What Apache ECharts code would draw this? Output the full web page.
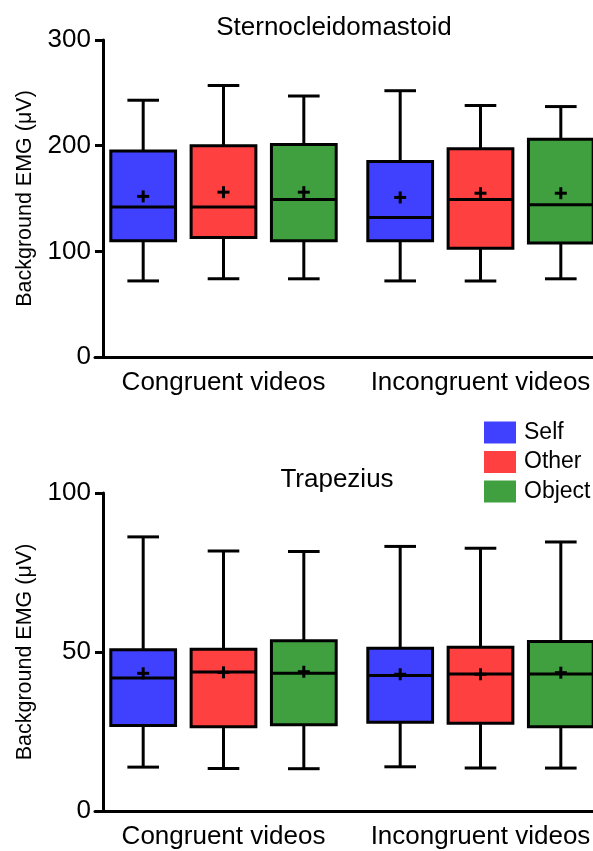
<!DOCTYPE html>
<html>
<head>
<meta charset="utf-8">
<script src="https://cdn.jsdelivr.net/npm/echarts@6/dist/echarts.min.js"></script>
<style>
html,body{margin:0;padding:0;background:#fff;}
#chart{width:593px;height:851px;}
</style>
</head>
<body>
<div id="chart"></div>
<script>
// ---- data ----
const categories = ['Congruent videos', 'Incongruent videos'];
const groups = ['Self', 'Other', 'Object'];
// each row: [whiskerLow, Q1, median, Q3, whiskerHigh, mean] per category
const scmSelf   = [[72, 110, 142, 195, 243, 152], [72, 110, 132, 185, 252, 151]];
const scmOther  = [[74, 113, 142, 200, 257, 156], [72, 103, 149, 197, 238, 155]];
const scmObject = [[74, 110, 149, 201, 247, 156], [74, 108, 144, 206, 237, 155]];
const trapSelf   = [[13.8, 26.9, 41.8, 50.7, 86.2, 43.3], [13.9, 27.9, 42.6, 51.2, 83.2, 43.0]];
const trapOther  = [[13.4, 26.5, 43.7, 50.9, 81.8, 43.6], [13.5, 27.6, 43.1, 51.5, 82.6, 43.0]];
const trapObject = [[13.3, 27.1, 43.3, 53.5, 81.6, 43.8], [13.5, 26.5, 43.1, 53.3, 84.6, 43.5]];
const scmTicks = [0, 100, 200, 300];
const trapTicks = [0, 50, 100];
const titles = ['Sternocleidomastoid', 'Trapezius'];
const yName = 'Background EMG (\u03bcV)';

// ---- styles ----
const colors = ['#4040FF', '#FF4040', '#40A040'];
const offsets = [-0.3125, 0, 0.3125];
const FONT = "'Liberation Sans', Arial, sans-serif";

function makeRender(gi) {
  return function (params, api) {
    const cat = api.value(0);
    const band = api.size([1, 0])[0];
    const cx = api.coord([cat, 0])[0] + offsets[gi] * band;
    const bw = band * 0.252;
    const cw = band * 0.123;
    const yLo = api.coord([cat, api.value(1)])[1];
    const yQ1 = api.coord([cat, api.value(2)])[1];
    const yMed = api.coord([cat, api.value(3)])[1];
    const yQ3 = api.coord([cat, api.value(4)])[1];
    const yHi = api.coord([cat, api.value(5)])[1];
    const yMean = api.coord([cat, api.value(6)])[1];
    const ls = { stroke: '#000', lineWidth: 3 };
    const p = 6;
    return {
      type: 'group',
      children: [
        { type: 'line', shape: { x1: cx, y1: yHi, x2: cx, y2: yQ3 }, style: ls },
        { type: 'line', shape: { x1: cx, y1: yQ1, x2: cx, y2: yLo }, style: ls },
        { type: 'line', shape: { x1: cx - cw / 2, y1: yHi, x2: cx + cw / 2, y2: yHi }, style: ls },
        { type: 'line', shape: { x1: cx - cw / 2, y1: yLo, x2: cx + cw / 2, y2: yLo }, style: ls },
        { type: 'rect', shape: { x: cx - bw / 2, y: yQ3, width: bw, height: yQ1 - yQ3 },
          style: { fill: colors[gi], stroke: '#000', lineWidth: 3 } },
        { type: 'line', shape: { x1: cx - bw / 2, y1: yMed, x2: cx + bw / 2, y2: yMed }, style: ls },
        { type: 'line', shape: { x1: cx - p, y1: yMean, x2: cx + p, y2: yMean }, style: ls },
        { type: 'line', shape: { x1: cx, y1: yMean - p, x2: cx, y2: yMean + p }, style: ls }
      ]
    };
  };
}

function toData(rows) {
  return rows.map((r, i) => [i].concat(r));
}

const topSets = [scmSelf, scmOther, scmObject];
const botSets = [trapSelf, trapOther, trapObject];

const series = [];
[topSets, botSets].forEach((sets, gridIdx) => {
  sets.forEach((rows, gi) => {
    series.push({
      type: 'custom',
      name: groups[gi],
      xAxisIndex: gridIdx,
      yAxisIndex: gridIdx,
      itemStyle: { color: colors[gi] },
      renderItem: makeRender(gi),
      encode: { x: 0, y: [1, 2, 3, 4, 5, 6] },
      data: toData(rows),
      clip: false,
      silent: true
    });
  });
});

function xAxis(gridIndex) {
  return {
    type: 'category',
    gridIndex: gridIndex,
    data: categories,
    axisLine: { lineStyle: { color: '#000', width: 3 } },
    axisTick: { show: false },
    axisLabel: { color: '#000', fontSize: 26, fontFamily: FONT, margin: 13, interval: 0 },
    splitLine: { show: false }
  };
}
function yAxis(gridIndex, ticks) {
  return {
    type: 'value',
    gridIndex: gridIndex,
    min: ticks[0],
    max: ticks[ticks.length - 1],
    interval: ticks[1] - ticks[0],
    offset: -8,
    name: yName,
    nameLocation: 'middle',
    nameGap: 67,
    nameTextStyle: { color: '#000', fontSize: 21.5, fontFamily: FONT },
    axisLine: { show: true, lineStyle: { color: '#000', width: 3 } },
    axisTick: { show: true, length: 8, lineStyle: { color: '#000', width: 3 } },
    axisLabel: { color: '#000', fontSize: 26, fontFamily: FONT, margin: 12 },
    splitLine: { show: false }
  };
}

const chart = echarts.init(document.getElementById('chart'), null, { renderer: 'canvas' });
chart.setOption({
  backgroundColor: '#fff',
  animation: false,
  title: [
    { text: titles[0], left: 334, top: 15, textAlign: 'center', padding: 0,
      textStyle: { color: '#000', fontSize: 26, fontWeight: 'normal', fontFamily: FONT } },
    { text: titles[1], left: 337, top: 467, textAlign: 'center', padding: 0,
      textStyle: { color: '#000', fontSize: 26, fontWeight: 'normal', fontFamily: FONT } }
  ],
  legend: {
    data: groups,
    orient: 'vertical',
    left: 484,
    top: 421,
    padding: 0,
    itemWidth: 32,
    itemHeight: 22,
    itemGap: 6.5,
    icon: 'rect',
    itemStyle: { borderWidth: 0 },
    textStyle: { color: '#000', fontSize: 23, fontFamily: FONT, padding: [0, 0, 0, 3] },
    selectedMode: false
  },
  grid: [
    { left: 95, width: 514, top: 40, height: 317, containLabel: false, outerBoundsMode: 'none' },
    { left: 95, width: 514, top: 493, height: 318, containLabel: false, outerBoundsMode: 'none' }
  ],
  xAxis: [xAxis(0), xAxis(1)],
  yAxis: [yAxis(0, scmTicks), yAxis(1, trapTicks)],
  series: series
});
</script>
</body>
</html>
